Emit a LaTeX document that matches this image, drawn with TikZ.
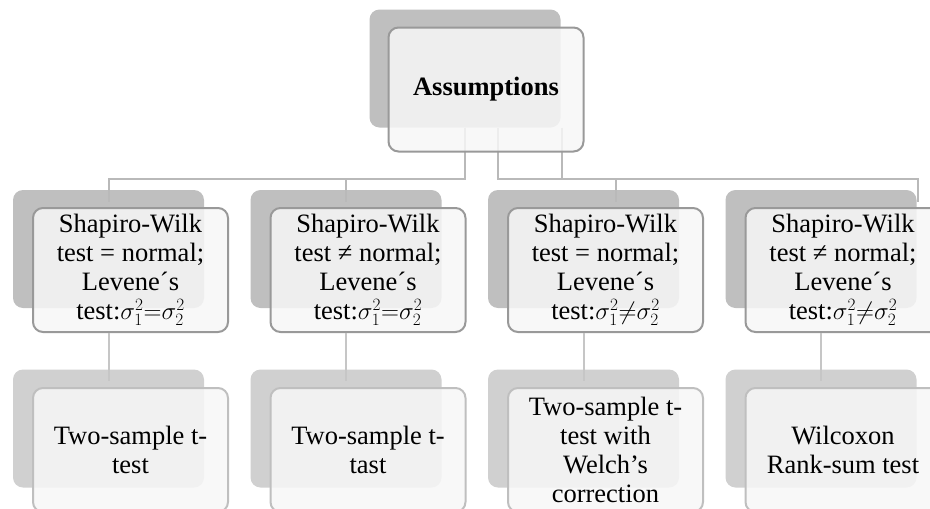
\documentclass[tikz,border=0pt]{standalone}
\usepackage{fontspec}
\setmainfont{Liberation Serif}
\tikzstyle{back_box} = [rectangle, rounded corners=10pt, minimum width=191pt, minimum height=118pt, inner sep=0pt]
\tikzstyle{front_box} = [rectangle, rounded corners=10pt, line width=2pt, minimum width=195pt, minimum height=124pt, inner sep=0pt, align=center, fill=black!3, fill opacity=0.85, text opacity=1, font=\fontsize{26.5}{29}\selectfont]
\tikzstyle{upper_back} = [back_box, fill=gray!50]
\tikzstyle{lower_back} = [back_box, fill=gray!37]
\tikzstyle{upper_front} = [front_box, draw=gray!80]
\tikzstyle{lower_front} = [front_box, draw=gray!50]
\tikzstyle{link} = [line width=2pt, draw=gray!55]
\tikzstyle{low_link} = [line width=2pt, draw=gray!45]

\begin{document}
\begin{tikzpicture}[x=1pt, y=-1pt]
      \useasboundingbox (0,0) rectangle (930,509);
      %Shadows
      \draw (465,68.5) node[upper_back] (topb) {};
      \draw (108.5,249) node[upper_back] (s1b) {};
      \draw (346,249) node[upper_back] (s2b) {};
      \draw (583.5,249) node[upper_back] (s3b) {};
      \draw (821,249) node[upper_back] (s4b) {};
      \draw (108.5,428.5) node[lower_back] (t1b) {};
      \draw (346,428.5) node[lower_back] (t2b) {};
      \draw (583.5,428.5) node[lower_back] (t3b) {};
      \draw (821,428.5) node[lower_back] (t4b) {};

      %Assumptions to tests
      \draw[link] (topb.south) -- ++(0,51) -| ([yshift=-12pt]s1b.north);
      \draw[link] (topb.south) -- ++(0,51) -| ([yshift=-12pt]s2b.north);
      \draw[link] ([xshift=33pt]topb.south) -- ++(0,51) -| ([shift={(32.5,12)}]s3b.north);
      \draw[link] ([xshift=97pt]topb.south) -- ++(0,51) -| ([shift={(97,12)}]s4b.north);

      %Assumptions
      \draw (486,89.5) node[upper_front] (top) {\textbf{Assumptions}};
      %Tests
      \draw (130.5,270) node[upper_front] (s1) {Shapiro-Wilk\\test = normal;\\Levene´s\\test:$\sigma_1^2{=}\sigma_2^2$};
      \draw (368,270) node[upper_front] (s2) {Shapiro-Wilk\\test ≠ normal;\\Levene´s\\test:$\sigma_1^2{=}\sigma_2^2$};
      \draw (605.5,270) node[upper_front] (s3) {Shapiro-Wilk\\test = normal;\\Levene´s\\test:$\sigma_1^2{\neq}\sigma_2^2$};
      \draw (843,270) node[upper_front] (s4) {Shapiro-Wilk\\test ≠ normal;\\Levene´s\\test:$\sigma_1^2{\neq}\sigma_2^2$};

      %Tests to methods
      \draw[low_link] (s1.south -| s1b.south) -- ([yshift=-12pt]t1b.north);
      \draw[low_link] (s2.south -| s2b.south) -- ([yshift=-12pt]t2b.north);
      \draw[low_link] (s3.south -| s3b.south) -- ([yshift=-12pt]t3b.north);
      \draw[low_link] (s4.south -| s4b.south) -- ([yshift=-12pt]t4b.north);

      %Methods
      \draw (130.5,450) node[lower_front] (t1) {Two-sample t-\\test};
      \draw (368,450) node[lower_front] (t2) {Two-sample t-\\tast};
      \draw (605.5,450) node[lower_front] (t3) {Two-sample t-\\test with\\Welch’s\\correction};
      \draw (843,450) node[lower_front] (t4) {Wilcoxon\\Rank-sum test};
\end{tikzpicture}
\end{document}
